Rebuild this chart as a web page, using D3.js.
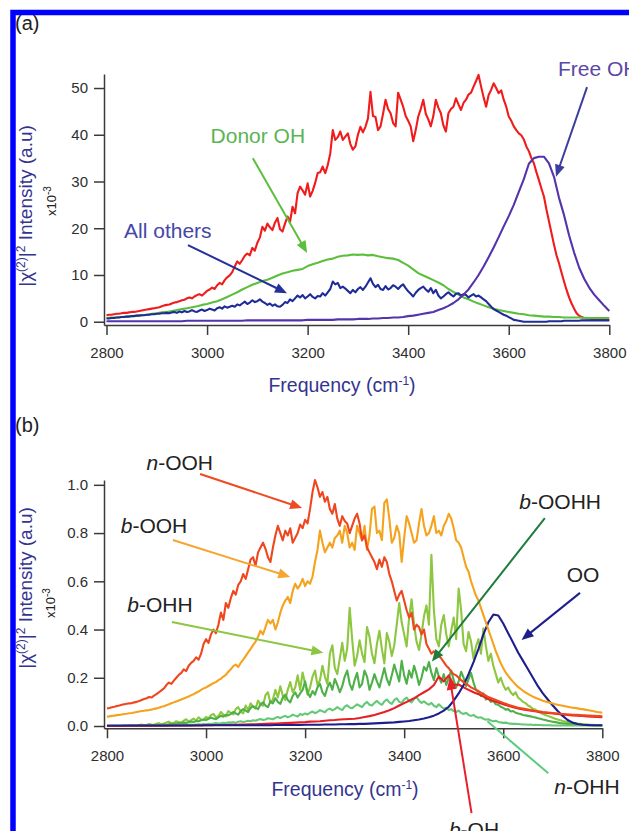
<!DOCTYPE html>
<html>
<head>
<meta charset="utf-8">
<script src="https://cdn.jsdelivr.net/npm/d3@7"></script>
<style>
  body { margin: 0; background: #fff; }
  svg { display: block; }
  text { font-family: "Liberation Sans", Arial, Helvetica, sans-serif; }
</style>
</head>
<body>
<svg id="fig" width="629" height="831"></svg>
<script>
// ---------- spectral data (frequency grid starts at 2800 cm-1) ----------
const gridStart = 2800;
const fineStep = 5;     // cm-1 between samples of the noisy spectra
const coarseStep = 10;  // cm-1 between samples of the smooth spectra

const freqTicks = [2800, 3000, 3200, 3400, 3600, 3800];
const ticksA = [0, 10, 20, 30, 40, 50];
const ticksB = [0, 0.2, 0.4, 0.6, 0.8, 1.0];

// (a) total spectrum, x10^-3 (5 cm-1 grid)
const totalA = [
  1.4,1.5,1.5,1.6,1.7,1.7,1.8,1.9,1.9,2.0,
  2.1,2.1,2.2,2.3,2.4,2.5,2.6,2.7,2.8,2.9,
  3.0,3.1,3.3,3.5,3.6,3.7,3.9,4.1,4.2,4.4,
  4.6,4.7,5.0,5.2,5.0,5.4,5.7,5.9,5.6,6.1,
  6.6,6.9,7.3,7.0,7.8,8.3,8.0,8.9,9.5,9.9,
  10.6,11.8,12.9,12.4,13.2,14.1,14.6,14.2,15.8,15.2,
  16.9,18.0,20.3,19.5,21.0,20.2,19.6,21.2,22.2,19.8,
  19.3,21.0,22.5,21.4,24.6,23.2,27.5,28.9,28.1,27.2,
  29.6,26.8,28.0,29.7,31.8,32.0,33.2,31.8,33.5,36.0,
  41.0,38.9,39.5,40.7,38.9,39.6,40.3,38.0,36.8,37.5,
  40.0,41.7,40.5,41.7,43.5,49.2,44.0,43.8,41.0,41.8,
  44.5,47.5,45.5,44.6,42.5,41.8,49.0,47.5,46.0,44.0,
  43.0,41.8,38.6,41.0,43.9,45.5,47.5,44.5,43.3,41.8,
  44.0,47.5,45.8,44.6,42.0,40.7,44.6,45.5,46.0,47.8,
  46.5,45.3,46.8,47.5,48.6,49.0,50.3,51.5,52.8,50.3,
  48.0,46.0,48.5,49.6,51.0,50.0,48.9,49.5,47.5,46.0,
  43.9,43.0,41.8,41.0,40.3,39.9,39.0,37.5,36.5,35.0,
  33.9,32.0,30.3,28.5,26.8,24.0,21.5,19.0,16.5,14.2,
  12.5,10.5,8.6,6.8,5.2,3.9,2.8,1.8,1.3,1.0,
  0.8,0.7,0.7,0.6,0.6,0.5,0.5,0.5,0.4,0.4,
  0.4
];

// (a) donor OH contribution (10 cm-1 grid)
const donorOH = [
  0.8,0.9,0.9,1.0,1.1,1.2,1.3,1.4,1.5,1.7,
  1.8,2.0,2.1,2.3,2.5,2.7,2.9,3.1,3.3,3.6,
  3.8,4.1,4.4,4.8,5.3,5.8,6.3,6.9,7.4,7.9,
  8.3,8.7,9.0,9.4,9.9,10.3,10.6,10.9,11.1,11.3,
  11.9,12.3,12.6,13.0,13.3,13.5,13.9,14.1,14.2,14.4,
  14.3,14.4,14.2,14.3,14.0,13.8,13.6,13.5,13.2,12.6,
  12.0,11.2,10.4,9.9,9.4,8.9,8.4,7.8,7.0,6.4,
  5.8,5.2,4.8,4.3,3.9,3.5,3.1,2.8,2.5,2.3,
  2.1,1.9,1.7,1.6,1.4,1.3,1.2,1.1,1.1,1.0,
  1.0,0.9,0.9,0.9,0.9,0.8,0.8,0.8,0.8,0.8,
  0.8
];

// (a) all other species (5 cm-1 grid)
const allOthers = [
  0.7,0.7,0.8,0.8,0.9,0.9,1.0,1.0,1.1,1.1,
  1.2,1.2,1.3,1.3,1.4,1.4,1.5,1.5,1.6,1.6,
  1.7,1.7,1.8,1.8,1.9,1.8,2.0,2.1,1.9,2.2,
  2.0,2.3,2.1,2.2,2.5,2.2,2.1,2.4,2.6,2.3,
  2.5,2.8,2.6,2.4,2.9,3.1,2.8,3.3,3.0,3.2,
  3.4,3.2,3.7,3.5,3.9,4.3,3.8,4.1,4.6,4.2,
  4.4,4.8,4.3,4.0,3.6,3.9,3.4,3.7,3.3,3.2,
  3.6,4.2,4.0,4.8,4.4,5.0,5.6,5.2,5.7,5.0,
  5.4,5.9,5.3,5.0,5.5,5.4,6.1,5.6,6.3,7.0,
  8.6,8.0,8.3,7.2,7.5,7.1,6.6,6.1,6.8,6.3,
  7.0,7.4,6.8,7.5,8.4,9.3,8.1,7.4,7.9,7.0,
  6.8,7.6,6.9,7.2,7.8,7.5,7.0,7.6,8.0,7.2,
  6.5,6.0,5.4,6.2,6.8,7.2,7.5,6.9,6.4,7.2,
  6.1,6.8,5.6,5.0,5.4,5.9,6.3,5.8,5.4,6.0,
  6.1,5.6,5.9,5.7,5.2,5.6,5.9,5.4,5.6,5.2,
  4.8,4.4,3.8,3.2,2.7,2.4,2.1,1.8,1.5,1.3,
  1.0,0.7,0.4,0.3,0.2,0.1,0.0,0.0,0.0,0.0,
  0.0,0.0,0.0,0.0,0.0,0.0,0.1,0.1,0.1,0.1,
  0.1,0.1,0.2,0.2,0.2,0.2,0.2,0.2,0.2,0.3,
  0.3,0.3,0.3,0.3,0.3,0.3,0.3,0.3,0.3,0.3,
  0.3
];

// (a) free OH contribution (10 cm-1 grid)
const freeOH = [
  0.1,0.1,0.1,0.1,0.1,0.1,0.1,0.1,0.1,0.1,
  0.1,0.1,0.1,0.1,0.1,0.1,0.2,0.2,0.2,0.2,
  0.2,0.2,0.2,0.2,0.2,0.2,0.2,0.2,0.3,0.3,
  0.3,0.3,0.3,0.3,0.3,0.3,0.3,0.3,0.3,0.3,
  0.4,0.4,0.4,0.4,0.4,0.4,0.5,0.5,0.5,0.5,
  0.6,0.6,0.6,0.7,0.7,0.8,0.8,0.9,0.9,1.0,
  1.2,1.3,1.5,1.7,1.9,2.1,2.5,2.9,3.4,4.0,
  4.8,5.8,6.9,8.4,10.0,11.8,13.8,15.9,18.1,20.4,
  22.6,25.0,27.8,30.5,33.8,35.0,35.3,35.3,33.9,31.0,
  26.5,22.8,18.5,14.8,11.6,9.2,7.3,5.8,4.6,3.4,
  2.3
];

// (b) n-OOH (5 cm-1 grid)
const nOOH = [
  .073,.075,.078,.080,.083,.085,.088,.090,.092,.094,
  .095,.098,.100,.104,.108,.112,.115,.120,.118,.126,
  .132,.140,.148,.156,.170,.180,.175,.188,.200,.212,
  .220,.235,.228,.250,.262,.270,.285,.275,.300,.340,
  .360,.345,.380,.400,.385,.420,.470,.440,.510,.490,
  .530,.560,.545,.585,.600,.630,.610,.650,.690,.700,
  .665,.720,.740,.760,.735,.700,.680,.740,.790,.830,
  .800,.770,.810,.790,.820,.760,.780,.800,.835,.820,
  .855,.840,.900,.970,1.020,.990,.950,.970,.930,.950,
  .900,.880,.920,.860,.830,.870,.850,.840,.800,.830,
  .860,.880,.840,.770,.790,.740,.720,.700,.680,.650,
  .690,.660,.700,.680,.630,.600,.560,.520,.545,.560,
  .520,.480,.450,.470,.400,.420,.410,.380,.400,.340,
  .320,.300,.310,.295,.290,.280,.265,.250,.240,.225,
  .215,.210,.200,.190,.182,.175,.168,.160,.155,.150,
  .145,.138,.132,.126,.120,.116,.112,.108,.104,.100,
  .096,.092,.088,.085,.082,.079,.076,.074,.072,.070,
  .068,.066,.064,.062,.061,.060,.058,.057,.056,.055,
  .054,.053,.052,.051,.050,.049,.048,.048,.047,.046,
  .046,.045,.044,.044,.043,.043,.042,.042,.041,.041,
  .040
];

// (b) b-OOH (5 cm-1 grid)
const bOOH = [
  .039,.040,.042,.043,.045,.046,.048,.050,.051,.053,
  .054,.056,.058,.060,.062,.063,.065,.066,.068,.071,
  .073,.076,.080,.082,.086,.090,.094,.098,.102,.106,
  .110,.114,.118,.122,.128,.132,.138,.143,.150,.156,
  .160,.166,.172,.178,.182,.190,.196,.205,.212,.225,
  .235,.248,.255,.245,.262,.275,.290,.305,.320,.335,
  .350,.370,.395,.380,.410,.440,.425,.440,.400,.430,
  .470,.500,.520,.535,.510,.560,.590,.570,.585,.610,
  .580,.600,.590,.620,.680,.730,.810,.760,.720,.740,
  .760,.740,.780,.790,.810,.760,.830,.800,.740,.760,
  .730,.830,.800,.770,.830,.730,.790,.900,.910,.800,
  .810,.770,.925,.940,.860,.760,.780,.830,.800,.680,
  .780,.870,.840,.800,.760,.770,.840,.900,.830,.790,
  .800,.830,.870,.800,.810,.790,.830,.850,.880,.860,
  .820,.770,.760,.740,.700,.660,.640,.600,.570,.540,
  .520,.490,.460,.430,.400,.370,.340,.310,.285,.260,
  .240,.222,.208,.195,.183,.172,.162,.154,.146,.139,
  .133,.127,.122,.117,.113,.109,.105,.102,.099,.096,
  .093,.090,.088,.086,.084,.082,.080,.078,.076,.075,
  .073,.071,.070,.068,.066,.064,.062,.060,.058,.057,
  .055
];

// (b) b-OHH (5 cm-1 grid)
const bOHH = [
  .000,.000,.000,.001,.000,.001,.001,.002,.001,.002,
  .003,.002,.002,.004,.006,.003,.004,.008,.006,.005,
  .009,.012,.007,.010,.015,.018,.011,.013,.020,.016,
  .014,.022,.028,.019,.024,.031,.022,.036,.027,.025,
  .038,.032,.045,.050,.036,.041,.058,.047,.040,.062,
  .055,.048,.070,.078,.060,.052,.085,.066,.094,.080,
  .072,.105,.090,.084,.128,.140,.095,.110,.150,.118,
  .165,.125,.108,.150,.182,.140,.160,.210,.150,.222,
  .175,.130,.160,.205,.230,.170,.190,.250,.205,.175,
  .300,.335,.240,.215,.280,.345,.270,.320,.490,.360,
  .250,.290,.355,.300,.265,.410,.370,.300,.260,.340,
  .395,.320,.260,.385,.350,.290,.335,.420,.510,.430,
  .380,.330,.450,.525,.420,.350,.315,.380,.455,.500,
  .420,.710,.480,.360,.330,.420,.460,.380,.330,.395,
  .450,.360,.570,.480,.340,.310,.390,.350,.280,.330,
  .360,.300,.405,.330,.270,.300,.250,.215,.180,.200,
  .170,.150,.160,.140,.128,.140,.118,.110,.100,.095,
  .085,.080,.070,.068,.060,.055,.050,.046,.042,.038,
  .034,.030,.027,.024,.021,.019,.017,.015,.013,.012,
  .010,.009,.008,.007,.006,.005,.005,.004,.004,.003,
  .003
];

// (b) b-OOHH (5 cm-1 grid)
const bOOHH = [
  .000,.000,.000,.000,.000,.000,.000,.000,.000,.000,
  .000,.000,.001,.001,.001,.002,.002,.002,.003,.003,
  .004,.003,.005,.006,.005,.007,.009,.008,.010,.012,
  .011,.014,.013,.016,.019,.017,.021,.020,.024,.027,
  .025,.030,.034,.031,.028,.036,.042,.039,.046,.044,
  .050,.058,.052,.047,.062,.070,.064,.058,.075,.082,
  .076,.070,.090,.098,.085,.078,.102,.094,.115,.100,
  .092,.118,.130,.108,.098,.125,.140,.118,.135,.150,
  .185,.140,.120,.145,.130,.160,.175,.140,.125,.160,
  .180,.150,.195,.170,.140,.165,.205,.230,.175,.150,
  .190,.220,.160,.175,.230,.205,.150,.180,.215,.185,
  .160,.200,.240,.195,.170,.210,.255,.220,.185,.270,
  .210,.175,.230,.200,.250,.215,.170,.200,.245,.230,
  .265,.220,.190,.240,.205,.180,.215,.170,.200,.230,
  .190,.160,.185,.225,.200,.165,.195,.220,.180,.150,
  .140,.125,.135,.110,.115,.100,.105,.090,.088,.080,
  .075,.068,.070,.060,.062,.055,.052,.050,.046,.044,
  .042,.040,.037,.035,.032,.030,.027,.025,.022,.020,
  .018,.016,.014,.012,.011,.010,.009,.008,.007,.006,
  .005,.005,.004,.004,.003,.003,.003,.002,.002,.002,
  .002
];

// (b) n-OHH (5 cm-1 grid)
const nOHH = [
  .000,.000,.000,.000,.000,.000,.000,.000,.000,.000,
  .000,.000,.000,.000,.000,.000,.000,.000,.000,.000,
  .001,.001,.002,.001,.002,.002,.003,.002,.003,.004,
  .003,.004,.005,.004,.006,.005,.006,.007,.006,.008,
  .007,.009,.008,.010,.012,.010,.011,.013,.012,.015,
  .014,.016,.013,.018,.020,.017,.019,.022,.020,.024,
  .022,.026,.029,.025,.027,.032,.030,.028,.034,.037,
  .033,.038,.042,.036,.040,.047,.043,.039,.050,.046,
  .052,.048,.055,.060,.053,.058,.066,.061,.057,.068,
  .072,.065,.070,.078,.071,.066,.080,.086,.077,.074,
  .082,.090,.084,.078,.092,.100,.088,.085,.096,.104,
  .094,.088,.102,.110,.098,.092,.108,.115,.100,.096,
  .110,.118,.104,.098,.112,.120,.105,.096,.102,.094,
  .088,.096,.084,.078,.090,.080,.072,.076,.066,.070,
  .062,.058,.064,.054,.050,.055,.046,.042,.046,.038,
  .034,.036,.030,.026,.028,.023,.020,.022,.017,.015,
  .013,.014,.011,.010,.009,.009,.008,.007,.006,.006,
  .005,.006,.004,.005,.004,.004,.003,.003,.003,.003,
  .002,.002,.002,.002,.002,.002,.002,.002,.002,.002,
  .002,.002,.002,.002,.002,.002,.002,.002,.002,.002,
  .002
];

// (b) b-OH (10 cm-1 grid)
const bOH = [
  .000,.000,.000,.000,.001,.001,.001,.001,.001,.001,
  .001,.001,.001,.002,.002,.002,.002,.002,.003,.003,
  .003,.003,.004,.004,.004,.005,.005,.006,.006,.007,
  .007,.008,.009,.010,.010,.011,.012,.013,.014,.015,
  .016,.018,.019,.020,.022,.024,.025,.027,.028,.029,
  .030,.033,.037,.041,.046,.052,.058,.065,.074,.085,
  .095,.105,.115,.128,.140,.152,.170,.205,.185,.210,
  .170,.172,.160,.150,.140,.132,.122,.112,.104,.097,
  .090,.084,.078,.073,.069,.065,.062,.059,.056,.054,
  .052,.050,.048,.046,.044,.043,.042,.040,.039,.038,
  .036
];

// (b) OO (10 cm-1 grid)
const OO = [
  .002,.002,.002,.002,.002,.002,.002,.002,.002,.002,
  .002,.002,.002,.002,.002,.002,.002,.002,.002,.002,
  .003,.003,.003,.003,.003,.003,.003,.003,.003,.003,
  .003,.003,.003,.003,.004,.004,.004,.004,.004,.004,
  .005,.005,.005,.005,.006,.006,.006,.007,.007,.008,
  .008,.009,.009,.010,.011,.012,.013,.014,.015,.017,
  .019,.021,.024,.027,.031,.036,.043,.052,.064,.080,
  .105,.135,.170,.215,.265,.320,.380,.430,.462,.458,
  .425,.385,.345,.305,.270,.235,.200,.165,.135,.110,
  .085,.062,.042,.025,.014,.008,.005,.004,.003,.003,
  .003
];

// annotation anchors, in data units [frequency, intensity]
const notesA = [
  { key: "donor",  label: ["", "Donor OH"],   at: [3101, 39.8], from: [3091, 35.0],   to: [3199, 14.7], head: true },
  { key: "others", label: ["", "All others"], at: [2922, 19.4], from: [2962, 16.4],   to: [3159, 6.1],  head: true },
  { key: "free",   label: ["", "Free OH"],    at: [3698, 54.1], from: [3755.7, 50.2], to: [3694, 31.0], head: true, anchor: "start" }
];
const notesB = [
  { key: "nOOH",  label: ["n", "-OOH"],  at: [2947, 1.090], from: [2988, 1.045], to: [3194, 0.904], head: true },
  { key: "bOOH",  label: ["b", "-OOH"],  at: [2895, 0.829], from: [2933, 0.771], to: [3170, 0.618], head: true },
  { key: "bOHH",  label: ["b", "-OHH"],  at: [2907, 0.505], from: [2931, 0.431], to: [3237, 0.304], head: true },
  { key: "bOOHH", label: ["b", "-OOHH"], at: [3715, 0.929], from: [3684, 0.862], to: [3456, 0.267], head: true },
  { key: "OO",    label: ["", "OO"],     at: [3761, 0.626], from: [3755, 0.552], to: [3637, 0.357], head: true },
  { key: "nOHH",  label: ["n", "-OHH"],  at: [3769, -0.253], from: [3691, -0.196], to: [3568, 0.020], head: false },
  { key: "bOH",   label: ["b", "-OH"],   at: [3541, -0.431], from: [3536, -0.361], to: [3492, 0.200], head: true }
];

// ---------- styling ----------
const colors = {
  total: "#f01c1c", donor: "#5cbf3c", others: "#1f2c98", free: "#5533aa",
  nOOH: "#f0461e", bOOH: "#f5a21c", bOHH: "#8dc63f", bOOHH: "#4db048",
  nOHH: "#63c977", bOH: "#e81e25", OO: "#1e1e8c"
};
const noteStyle = {
  donor:  { text: "#5ab552", line: "#5cbf3c" },
  others: { text: "#4646a8", line: "#25309a" },
  free:   { text: "#5b47a6", line: "#3d3d9e" },
  nOOH:   { text: "#222", line: "#ee4a24" },
  bOOH:   { text: "#222", line: "#f5a530" },
  bOHH:   { text: "#222", line: "#8dc63f" },
  bOOHH:  { text: "#222", line: "#1e7d3c" },
  OO:     { text: "#222", line: "#1e1e8c" },
  nOHH:   { text: "#222", line: "#5ccc7c" },
  bOH:    { text: "#222", line: "#e8202a" }
};
const axisColor = "#3a3a3a";
const labelBlue = "#34348f";

const svg = d3.select("#fig");

// frame drawn along the top and left edge
svg.append("path")
  .attr("d", "M640,12.5H13V845")
  .attr("fill", "none").attr("stroke", "#0000ff").attr("stroke-width", 5.5);

const toPts = (vals, step) => vals.map((v, i) => [gridStart + i * step, v]);

function drawArrow(g, p1, p2, color, head) {
  const [x1, y1] = p1, [x2, y2] = p2;
  const dx = x2 - x1, dy = y2 - y1, len = Math.hypot(dx, dy);
  const ux = dx / len, uy = dy / len;
  const hl = head ? 12 : 0, hw = 5;
  g.append("line")
    .attr("x1", x1).attr("y1", y1)
    .attr("x2", x2 - ux * hl * 0.8).attr("y2", y2 - uy * hl * 0.8)
    .attr("stroke", color).attr("stroke-width", 2);
  if (head) {
    g.append("path")
      .attr("d", `M${x2},${y2}L${x2 - ux * hl - uy * hw},${y2 - uy * hl + ux * hw}L${x2 - ux * hl + uy * hw},${y2 - uy * hl - ux * hw}Z`)
      .attr("fill", color);
  }
}

function drawPanel(cfg) {
  const g = svg.append("g");
  const x = d3.scaleLinear().domain(cfg.xDomain).range(cfg.xRange);
  const y = d3.scaleLinear().domain(cfg.yDomain).range(cfg.yRange);
  const line = d3.line().x(d => x(d[0])).y(d => y(d[1]));

  // axes
  const xAxis = g.append("g").attr("transform", `translate(0,${cfg.yRange[0]})`)
    .call(d3.axisBottom(x).tickValues(freqTicks).tickFormat(d3.format("d"))
      .tickSize(10).tickSizeOuter(0).tickPadding(12));
  const yAxis = g.append("g").attr("transform", `translate(${cfg.xRange[0]},0)`)
    .call(d3.axisLeft(y).tickValues(cfg.yTicks).tickFormat(cfg.yFormat)
      .tickSize(10).tickSizeOuter(0).tickPadding(6));
  [xAxis, yAxis].forEach(a => {
    a.selectAll("path, line").attr("stroke", axisColor).attr("stroke-width", 1.5);
    a.selectAll("text").attr("fill", "#2e2e2e").style("font-size", "15px")
      .style("font-family", "'Liberation Sans', Arial, sans-serif");
  });

  // spectra
  cfg.series.forEach(s => {
    g.append("path").datum(toPts(s.values, s.step))
      .attr("d", line).attr("fill", "none")
      .attr("stroke", colors[s.key]).attr("stroke-width", 2.1)
      .attr("stroke-linejoin", "round");
  });

  // axis titles
  const ft = g.append("text")
    .attr("x", cfg.xTitle[0]).attr("y", cfg.xTitle[1])
    .attr("text-anchor", "middle").attr("fill", labelBlue).style("font-size", "19.5px");
  ft.append("tspan").text("Frequency (cm");
  ft.append("tspan").attr("baseline-shift", "super").style("font-size", "12px").text("-1");
  ft.append("tspan").text(")");

  const yt = g.append("text")
    .attr("transform", `translate(${cfg.yTitle[0]},${cfg.yTitle[1]}) rotate(-90)`)
    .attr("text-anchor", "middle").attr("dy", "0.35em")
    .attr("fill", labelBlue).style("font-size", "19px");
  yt.append("tspan").text("|\u03c7");
  yt.append("tspan").attr("baseline-shift", "super").style("font-size", "12px").text("(2)");
  yt.append("tspan").text("|");
  yt.append("tspan").attr("baseline-shift", "super").style("font-size", "12px").text("2");
  yt.append("tspan").text(" Intensity (a.u)");

  const mt = g.append("text")
    .attr("transform", `translate(${cfg.mult[0]},${cfg.mult[1]}) rotate(-90)`)
    .attr("text-anchor", "middle").attr("dy", "0.35em")
    .attr("fill", "#222").style("font-size", "13px");
  mt.append("tspan").text("x10");
  mt.append("tspan").attr("baseline-shift", "super").style("font-size", "10px").text("-3");

  // panel tag
  g.append("text").attr("x", 15).attr("y", cfg.tagY)
    .attr("fill", "#222").style("font-size", "20px").text(cfg.tag);

  // annotations
  cfg.notes.forEach(n => {
    const st = noteStyle[n.key];
    drawArrow(g, [x(n.from[0]), y(n.from[1])], [x(n.to[0]), y(n.to[1])], st.line, n.head);
    const t = g.append("text")
      .attr("x", x(n.at[0])).attr("y", y(n.at[1])).attr("dy", "0.35em")
      .attr("text-anchor", n.anchor || "middle")
      .attr("fill", st.text).style("font-size", "21px");
    if (n.label[0]) t.append("tspan").style("font-style", "italic").text(n.label[0]);
    t.append("tspan").text(n.label[1]);
  });
}

drawPanel({
  tag: "(a)", tagY: 30,
  xDomain: [2795, 3800], xRange: [104, 609.3],
  yDomain: [-0.7, 53], yRange: [325, 74],
  yTicks: ticksA, yFormat: d3.format("d"),
  xTitle: [342, 392], yTitle: [25, 206], mult: [51, 201],
  series: [
    { key: "total",  values: totalA,    step: fineStep },
    { key: "donor",  values: donorOH,   step: coarseStep },
    { key: "others", values: allOthers, step: fineStep },
    { key: "free",   values: freeOH,    step: coarseStep }
  ],
  notes: notesA
});

drawPanel({
  tag: "(b)", tagY: 432,
  xDomain: [2794, 3800], xRange: [104, 602.3],
  yDomain: [-0.0095, 1.02], yRange: [728.3, 480],
  yTicks: ticksB, yFormat: d3.format(".1f"),
  xTitle: [345, 796], yTitle: [25, 588], mult: [50, 603],
  series: [
    { key: "bOHH",  values: bOHH,  step: fineStep },
    { key: "bOOHH", values: bOOHH, step: fineStep },
    { key: "nOHH",  values: nOHH,  step: fineStep },
    { key: "bOH",   values: bOH,   step: coarseStep },
    { key: "OO",    values: OO,    step: coarseStep },
    { key: "bOOH",  values: bOOH,  step: fineStep },
    { key: "nOOH",  values: nOOH,  step: fineStep }
  ],
  notes: notesB
});
</script>
</body>
</html>
